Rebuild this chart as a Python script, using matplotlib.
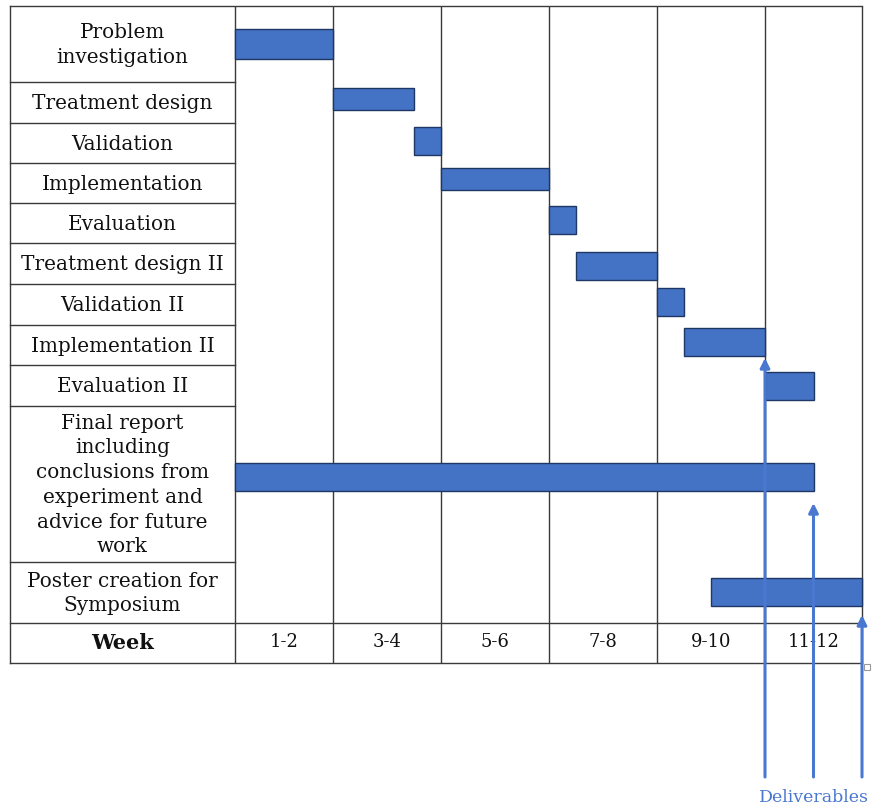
import numpy as np
import matplotlib
matplotlib.use("Agg")
import matplotlib.pyplot as plt
from matplotlib.patches import Rectangle

# ---- schedule data (weeks) ----
tasks = [
    "Problem\ninvestigation",
    "Treatment design",
    "Validation",
    "Implementation",
    "Evaluation",
    "Treatment design II",
    "Validation II",
    "Implementation II",
    "Evaluation II",
    "Final report\nincluding\nconclusions from\nexperiment and\nadvice for future\nwork",
    "Poster creation for\nSymposium",
]
start_week = [0.0, 2.0, 3.5, 4.0, 6.0, 6.5, 8.0, 8.5, 10.0, 0.0, 9.0]
end_week = [2.0, 3.5, 4.0, 6.0, 6.5, 8.0, 8.5, 10.0, 11.0, 11.0, 12.0]

week_labels = ["1-2", "3-4", "5-6", "7-8", "9-10", "11-12"]
week_edges = [0, 2, 4, 6, 8, 10, 12]

deliverable_weeks = [10, 11, 12]
deliverable_label = "Deliverables"

# ---- layout (figure pixels, y measured from the top) ----
W, H = 873, 809
col_px = [235, 333, 441, 549, 657, 765, 862]      # column boundaries
table_left, table_top, table_bottom = 10, 6, 663
row_edges = [6, 82, 123, 163, 203, 243, 284, 325, 365, 406, 562, 623, 663]
bar_height = [30, 22, 28, 22, 28, 28, 28, 28, 28, 28, 28]
bar_shift = [0, -3.5, -2, -4, -3, 2.5, -2.5, -3, 0.5, -7, -0.5]
arrow_tip = [358, 503, 615]
arrow_base = 777

serif = ["DejaVu Serif"]
line_col = "#3a3a3a"
bar_fill = "#4472C4"
bar_edge = "#1F3764"
arrow_col = "#4A78D0"

fig = plt.figure(figsize=(W / 100, H / 100), dpi=100)
fig.patch.set_facecolor("white")

# background axes in pixel coordinates: table frame and task labels
frame = fig.add_axes([0, 0, 1, 1])
frame.set_xlim(0, W)
frame.set_ylim(H, 0)
frame.axis("off")

lw = 1.0
frame.plot([table_left, col_px[-1]], [table_top, table_top], color=line_col, lw=lw)
frame.plot([table_left, col_px[-1]], [table_bottom, table_bottom], color=line_col, lw=lw)
frame.plot([table_left, table_left], [table_top, table_bottom], color=line_col, lw=lw)
frame.plot([table_left, col_px[-1]], [row_edges[-2], row_edges[-2]], color=line_col, lw=lw)
for y in row_edges[1:-2]:
    frame.plot([table_left, col_px[0]], [y, y], color=line_col, lw=lw)

label_x = (table_left + col_px[0]) / 2
for i, name in enumerate(tasks):
    yc = (row_edges[i] + row_edges[i + 1]) / 2
    frame.text(label_x, yc + 1, name, ha="center", va="center", fontsize=14.4,
               family=serif, color="#111111", linespacing=1.38)
yc = (row_edges[-2] + row_edges[-1]) / 2
frame.text(label_x, yc, "Week", ha="center", va="center", fontsize=15,
           family=serif, fontweight="bold", color="#111111")

# small handle box at the table corner
frame.add_patch(Rectangle((864, 664), 6, 6, fill=False, ec="#9a9a9a", lw=0.8))

# chart axes: x in weeks (column widths follow the table), y in pixels
ax = fig.add_axes([col_px[0] / W, 0, (col_px[-1] - col_px[0]) / W, 1])
ax.patch.set_alpha(0)


def fwd(w):
    return np.interp(w, week_edges, col_px)


def inv(p):
    return np.interp(p, col_px, week_edges)


ax.set_xscale("function", functions=(fwd, inv))
ax.set_xlim(week_edges[0], week_edges[-1])
ax.set_ylim(H, 0)
ax.axis("off")

ax.vlines(week_edges, table_top, table_bottom, color=line_col, lw=lw,
          clip_on=False)

for i in range(len(tasks)):
    yc = (row_edges[i] + row_edges[i + 1]) / 2 + bar_shift[i]
    ax.barh(yc, end_week[i] - start_week[i], left=start_week[i],
            height=bar_height[i], color=bar_fill, edgecolor=bar_edge,
            linewidth=1.0, zorder=3, clip_on=False)

wy = (row_edges[-2] + row_edges[-1]) / 2
for k, lab in enumerate(week_labels):
    xc = (week_edges[k] + week_edges[k + 1]) / 2
    ax.text(xc, wy - 1, lab, ha="center", va="center", fontsize=13,
            family=serif, color="#111111")

for wk, tip in zip(deliverable_weeks, arrow_tip):
    ax.annotate("", xy=(wk, tip), xytext=(wk, arrow_base),
                arrowprops=dict(arrowstyle="-|>", color=arrow_col, lw=2.2,
                                mutation_scale=14, shrinkA=0, shrinkB=0),
                annotation_clip=False, zorder=4)

ax.text(np.mean(deliverable_weeks), 797, deliverable_label, ha="center",
        va="center", fontsize=12.5, family=serif, color=arrow_col)

fig.savefig("out.png", dpi=100, facecolor="white")
